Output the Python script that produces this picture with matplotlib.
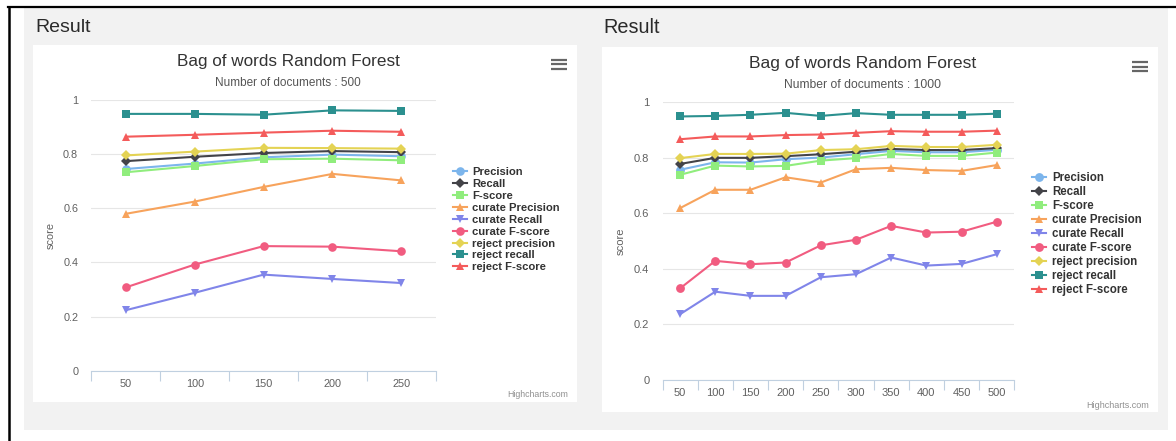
import matplotlib.pyplot as plt
from matplotlib.patches import Rectangle
from matplotlib.lines import Line2D

plt.rcParams['font.family'] = ['Liberation Sans', 'DejaVu Sans']

# series shared by both charts
series_names = ["Precision", "Recall", "F-score", "curate Precision", "curate Recall",
                "curate F-score", "reject precision", "reject recall", "reject F-score"]
series_colors = ["#7cb5ec", "#434348", "#90ed7d", "#f7a35c", "#8085e9",
                 "#f15c80", "#e4d354", "#2b908f", "#f45b5b"]
series_markers = ["o", "D", "s", "^", "v", "o", "D", "s", "^"]

# left chart: 500 documents
cats_500 = ["50", "100", "150", "200", "250"]
precision_500 = [0.744, 0.764, 0.787, 0.797, 0.791]
recall_500 = [0.773, 0.789, 0.803, 0.810, 0.806]
fscore_500 = [0.732, 0.755, 0.780, 0.782, 0.776]
cur_precision_500 = [0.579, 0.624, 0.678, 0.726, 0.702]
cur_recall_500 = [0.224, 0.288, 0.355, 0.339, 0.324]
cur_fscore_500 = [0.308, 0.392, 0.460, 0.458, 0.441]
rej_precision_500 = [0.794, 0.808, 0.822, 0.821, 0.819]
rej_recall_500 = [0.947, 0.947, 0.944, 0.960, 0.958]
rej_fscore_500 = [0.863, 0.870, 0.878, 0.885, 0.881]

# right chart: 1000 documents
cats_1000 = ["50", "100", "150", "200", "250", "300", "350", "400", "450", "500"]
precision_1000 = [0.757, 0.784, 0.783, 0.795, 0.801, 0.813, 0.825, 0.820, 0.820, 0.829]
recall_1000 = [0.778, 0.800, 0.800, 0.806, 0.813, 0.822, 0.832, 0.828, 0.828, 0.835]
fscore_1000 = [0.739, 0.772, 0.769, 0.771, 0.790, 0.799, 0.814, 0.807, 0.807, 0.819]
cur_precision_1000 = [0.619, 0.685, 0.685, 0.730, 0.711, 0.759, 0.764, 0.756, 0.753, 0.774]
cur_recall_1000 = [0.237, 0.318, 0.303, 0.303, 0.370, 0.381, 0.441, 0.412, 0.418, 0.453]
cur_fscore_1000 = [0.330, 0.429, 0.417, 0.423, 0.485, 0.505, 0.555, 0.531, 0.534, 0.570]
rej_precision_1000 = [0.799, 0.814, 0.814, 0.815, 0.828, 0.831, 0.843, 0.839, 0.839, 0.847]
rej_recall_1000 = [0.949, 0.951, 0.955, 0.962, 0.951, 0.961, 0.955, 0.955, 0.955, 0.959]
rej_fscore_1000 = [0.867, 0.877, 0.877, 0.882, 0.884, 0.890, 0.896, 0.894, 0.894, 0.898]

y_ticks = [0, 0.2, 0.4, 0.6, 0.8, 1]
y_ticklabels = ["0", "0.2", "0.4", "0.6", "0.8", "1"]

W, H = 1176, 441
fig = plt.figure(figsize=(W / 100, H / 100), dpi=100)
fig.patch.set_facecolor("white")


def fx(x):
    return x / W


def fy(y):
    return 1 - y / H


def box(x0, y0, x1, y1, color):
    fig.patches.append(Rectangle((fx(x0), fy(y1)), (x1 - x0) / W, (y1 - y0) / H,
                                 transform=fig.transFigure, facecolor=color,
                                 edgecolor="none", zorder=-10))


# page background
box(24, 8, 1168, 430, "#f2f2f2")
box(33, 45, 577, 402, "white")
box(602, 47, 1158, 412, "white")
fig.add_artist(Line2D([fx(8), fx(1176)], [fy(7), fy(7)], color="black", lw=1.6))
fig.add_artist(Line2D([fx(9), fx(9)], [fy(7), fy(441)], color="black", lw=1.8))
fig.text(fx(35), fy(32), "Result", fontsize=14, color="#2a2a2a", va="baseline")
fig.text(fx(603), fy(33), "Result", fontsize=14.3, color="#2a2a2a", va="baseline")


def draw_chart(plot, cats, values, subtitle, title_x, title_y, legend_xy, item_gap,
               icon, credit, s):
    x0, y0, x1, y1 = plot
    ax = fig.add_axes([fx(x0), fy(y1), (x1 - x0) / W, (y1 - y0) / H])
    ax.patch.set_alpha(0)
    xs = list(range(len(cats)))
    for name, col, mk, vals in zip(series_names, series_colors, series_markers, values):
        ms = 4.8 * s if mk == "D" else 6.2 * s
        ax.plot(xs, vals, color=col, lw=1.5, marker=mk, markersize=ms,
                markeredgewidth=0, label=name, clip_on=False)
    ax.set_xlim(-0.5, len(cats) - 0.5)
    ax.set_ylim(0, 1)
    ax.set_yticks(y_ticks)
    ax.set_yticklabels(y_ticklabels)
    ax.set_xticks(xs)
    ax.set_xticklabels(cats)
    ax.set_xticks([i - 0.5 for i in range(len(cats) + 1)], minor=True)
    ax.tick_params(axis="y", length=0, pad=9.5, labelsize=7.8 * s, labelcolor="#606060")
    ax.tick_params(axis="x", which="major", length=0, pad=6, labelsize=7.8 * s,
                   labelcolor="#606060")
    ax.tick_params(axis="x", which="minor", length=7, width=0.8, color="#C0D0E0")
    for side in ["top", "right", "left"]:
        ax.spines[side].set_visible(False)
    ax.spines["bottom"].set_color("#C0D0E0")
    ax.spines["bottom"].set_linewidth(0.8)
    ax.grid(axis="y", color="#e6e6e6", lw=0.8)
    ax.set_axisbelow(True)

    fig.text(fx(title_x), fy(title_y[0]), "Bag of words Random Forest", fontsize=12.3 * s,
             color="#333333", ha="center", va="center")
    fig.text(fx(title_x), fy(title_y[1]), subtitle, fontsize=8.5 * s,
             color="#555555", ha="center", va="center")
    fig.text(fx(x0 - 40.5 * s), fy((y0 + y1) / 2), "score", fontsize=7.9 * s,
             color="#606060", rotation=90, ha="center", va="center")

    leg = ax.legend(loc="upper left", bbox_to_anchor=(fx(legend_xy[0]), fy(legend_xy[1])),
                    bbox_transform=fig.transFigure, frameon=False, borderpad=0,
                    borderaxespad=0, handlelength=1.25, handletextpad=0.5,
                    labelspacing=item_gap, prop={"size": 8.1 * s, "weight": "bold"})
    for t in leg.get_texts():
        t.set_color("#333333")

    # export menu icon
    ix0, ix1, iy = icon
    for dy in (-4.5 * s, 0, 4.5 * s):
        fig.add_artist(Line2D([fx(ix0), fx(ix1)], [fy(iy + dy), fy(iy + dy)],
                              color="#666666", lw=1.6, solid_capstyle="butt"))
    fig.text(fx(credit[0]), fy(credit[1]), "Highcharts.com", fontsize=6.3 * s,
             color="#909090", ha="right", va="center")
    return ax


values_500 = [precision_500, recall_500, fscore_500, cur_precision_500, cur_recall_500,
              cur_fscore_500, rej_precision_500, rej_recall_500, rej_fscore_500]
values_1000 = [precision_1000, recall_1000, fscore_1000, cur_precision_1000, cur_recall_1000,
               cur_fscore_1000, rej_precision_1000, rej_recall_1000, rej_fscore_1000]

draw_chart((91.4, 99.5, 435.8, 371), cats_500, values_500, "Number of documents : 500",
           288, (61.5, 83), (452.7, 167.4), 0.165, (551, 567, 64), (567.7, 394.5), 1.0)
draw_chart((662.5, 102.3, 1014.3, 380), cats_1000, values_1000, "Number of documents : 1000",
           862.5, (63.5, 85.5), (1032, 171.9), 0.175, (1132, 1147.5, 66.5), (1149, 405), 1.025)

fig.savefig("out.png", dpi=100)
